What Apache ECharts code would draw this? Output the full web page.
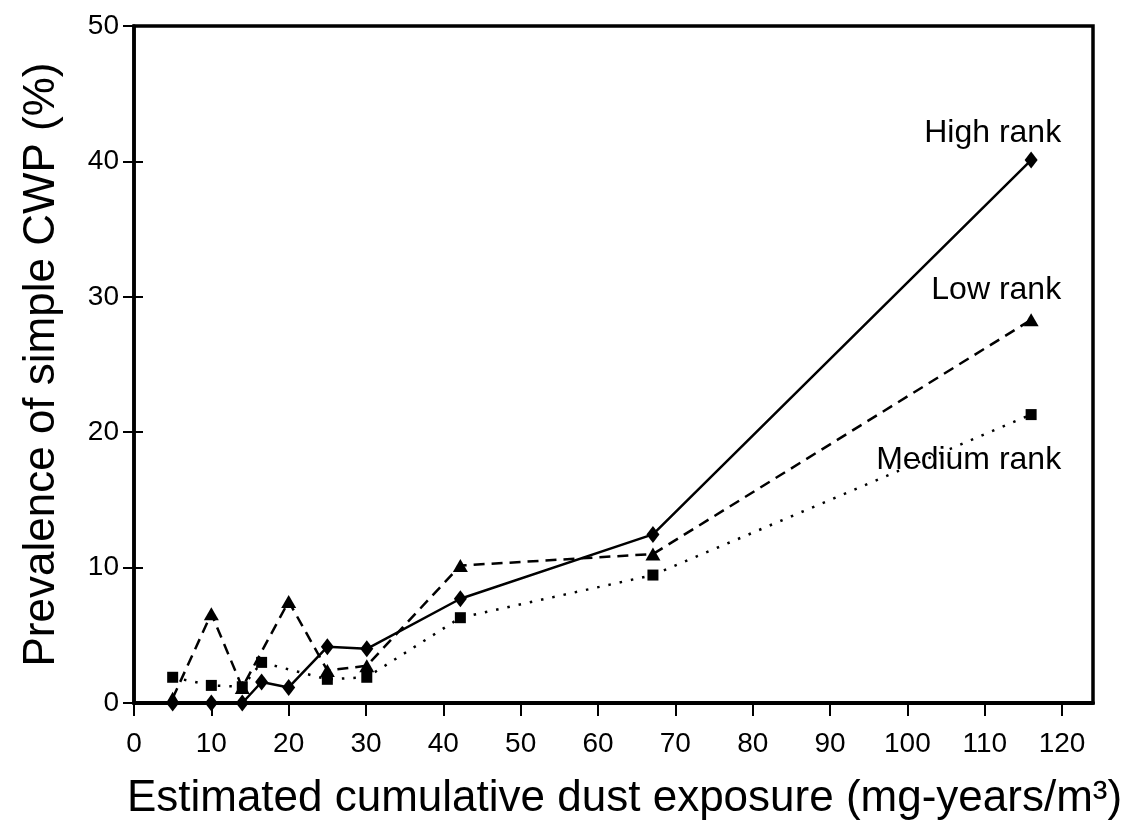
<!DOCTYPE html>
<html>
<head>
<meta charset="utf-8">
<script src="https://cdn.jsdelivr.net/npm/echarts@6/dist/echarts.min.js"></script>
<style>
  html, body { margin: 0; padding: 0; background: #fff; }
  #chart { width: 1129px; height: 823px; }
</style>
</head>
<body>
<div id="chart"></div>
<script>
// ---- data ----
const highX   = [5, 10, 14, 16.5, 20, 25, 30.1, 42.2, 67.1, 116];
const highY   = [0, 0, 0, 1.55, 1.15, 4.15, 4.0, 7.7, 12.45, 40.1];

const lowX    = [5, 10, 14, 20, 25, 30.1, 42.2, 67.1, 116];
const lowY    = [0.35, 6.6, 1.15, 7.5, 2.4, 2.75, 10.15, 11.0, 28.3];

const mediumX = [5, 10, 14, 16.5, 25, 30.1, 42.2, 67.1, 116];
const mediumY = [1.9, 1.3, 1.2, 3.0, 1.75, 1.9, 6.3, 9.45, 21.3];

const seriesNames = ['High rank', 'Low rank', 'Medium rank'];
const xTicks = [0, 10, 20, 30, 40, 50, 60, 70, 80, 90, 100, 110, 120];
const yTicks = [0, 10, 20, 30, 40, 50];

const xTitle = 'Estimated cumulative dust exposure (mg-years/m³)';
const yTitle = 'Prevalence of simple CWP (%)';

const FONT = '"Liberation Sans", Arial, Helvetica, sans-serif';

function pairs(xs, ys, labelText, labelOffset) {
  return xs.map((x, i) => {
    if (i === xs.length - 1) {
      return {
        value: [x, ys[i]],
        label: {
          show: true,
          formatter: labelText,
          position: 'inside',
          align: 'right',
          verticalAlign: 'middle',
          offset: labelOffset,
          color: '#000',
          fontFamily: FONT,
          fontSize: 32
        }
      };
    }
    return [x, ys[i]];
  });
}

const chart = echarts.init(document.getElementById('chart'), null, { renderer: 'canvas' });

const option = {
  backgroundColor: '#fff',
  animation: false,
  grid: {
    left: 134, right: 36, top: 26, bottom: 120,
    outerBoundsMode: 'none',
    containLabel: false,
    show: true, borderColor: '#000', borderWidth: 3.5, backgroundColor: 'transparent'
  },
  xAxis: [{
    type: 'value', min: 0, max: 124, interval: 10,
    splitLine: { show: false },
    axisLine: { show: true, onZero: false, lineStyle: { color: '#000', width: 4 } },
    axisTick: { show: true, inside: false, length: 13, customValues: xTicks, lineStyle: { color: '#000', width: 2 } },
    axisLabel: { customValues: xTicks, margin: 27, color: '#000', fontFamily: FONT, fontSize: 28 },
    name: xTitle,
    nameLocation: 'middle',
    nameGap: 74,
    nameTextStyle: { color: '#000', fontFamily: FONT, fontSize: 44, padding: [0, 0, 0, 22] }
  }],
  yAxis: [{
    type: 'value', min: 0, max: 50, interval: 10,
    splitLine: { show: false },
    axisLine: { show: true, onZero: false, lineStyle: { color: '#000', width: 3.5 } },
    axisTick: { show: true, inside: false, length: 11, lineStyle: { color: '#000', width: 2 } },
    axisLabel: { margin: 15, color: '#000', fontFamily: FONT, fontSize: 28 },
    name: yTitle,
    nameLocation: 'middle',
    nameGap: 70,
    nameTextStyle: { color: '#000', fontFamily: FONT, fontSize: 44 }
  }, {
    type: 'value', min: 0, max: 50, interval: 10, position: 'left',
    splitLine: { show: false },
    axisLine: { show: false },
    axisTick: { show: true, inside: true, length: 9, lineStyle: { color: '#000', width: 2 } },
    axisLabel: { show: false }
  }],
  series: [
    {
      name: seriesNames[0],
      type: 'line',
      data: pairs(highX, highY, seriesNames[0], [30, -27]),
      symbol: 'diamond',
      symbolSize: [13, 17],
      showSymbol: true,
      itemStyle: { color: '#000' },
      lineStyle: { color: '#000', width: 2.5, type: 'solid' },
      z: 5
    },
    {
      name: seriesNames[1],
      type: 'line',
      data: pairs(lowX, lowY, seriesNames[1], [30, -30]),
      symbol: 'triangle',
      symbolSize: [15, 13],
      itemStyle: { color: '#000' },
      lineStyle: { color: '#000', width: 2.5, type: [11, 7] },
      z: 4
    },
    {
      name: seriesNames[2],
      type: 'line',
      data: pairs(mediumX, mediumY, seriesNames[2], [30, 46]),
      symbol: 'rect',
      symbolSize: [11, 11],
      itemStyle: { color: '#000' },
      lineStyle: { color: '#000', width: 2.5, type: [2.5, 9] },
      z: 3
    }
  ]
};

chart.setOption(option);
</script>
</body>
</html>
